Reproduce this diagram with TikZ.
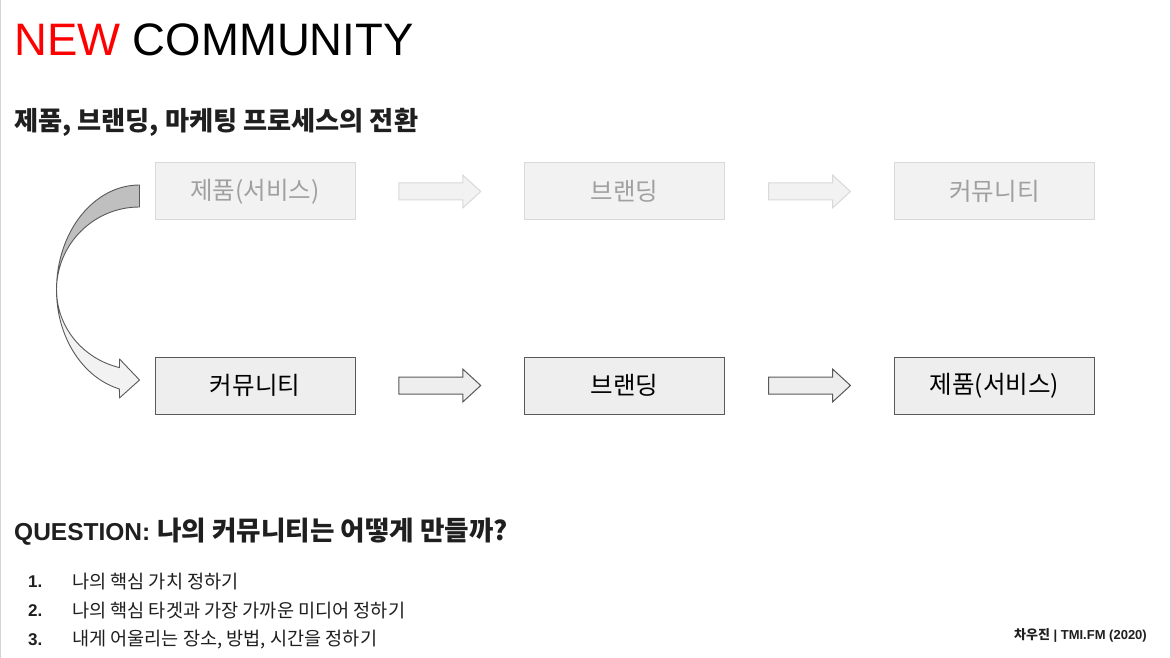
\documentclass[tikz,border=0pt]{standalone}
\usepackage{fontspec}
\setmainfont{Liberation Sans}
\newfontfamily\kr{Noto Sans CJK KR}
\usetikzlibrary{calc}
\definecolor{newred}{HTML}{FF0000}
\definecolor{inkdark}{HTML}{1F1F1F}
\definecolor{fadefill}{HTML}{F2F2F2}
\definecolor{fadeline}{HTML}{D9D9D9}
\definecolor{fadetext}{HTML}{A0A0A0}
\definecolor{boxfill}{HTML}{EEEEEE}
\definecolor{boxline}{HTML}{595959}
\definecolor{backband}{HTML}{BFBFBF}
\definecolor{frontband}{HTML}{F2F2F2}
\definecolor{edgegray}{HTML}{D4D4D4}
\tikzset{
  oldbox/.style={draw=fadeline, fill=fadefill, line width=1pt, minimum width=200pt, minimum height=57pt, inner sep=0pt, text=fadetext, font=\kr\fontsize{24.5}{28}\selectfont},
  newbox/.style={draw=boxline, fill=boxfill, line width=1pt, minimum width=200pt, minimum height=57pt, inner sep=0pt, text=black, font=\kr\fontsize{24.5}{28}\selectfont},
  oldarrow/.style={draw=fadeline, fill=fadefill, line width=1pt},
  newarrow/.style={draw=boxline, fill=boxfill, line width=1pt},
  txt/.style={inner sep=0pt, anchor=base west},
}
\newcommand{\blockarrowpath}{(-41,-8.5) -- (23,-8.5) -- (23,-16.5) -- (41,0) -- (23,16.5) -- (23,8.5) -- (-41,8.5) -- cycle}
\begin{document}
\begin{tikzpicture}[x=1pt,y=-1pt]
\useasboundingbox (0,0) rectangle (1171,658);
\fill[white] (0,0) rectangle (1171,658);
\draw[edgegray, line width=1pt] (0.5,0) -- (0.5,658);
\draw[edgegray, line width=1pt] (1170.5,0) -- (1170.5,658);

% title and subtitle
\node[txt] (title) at (14,56) {\fontsize{45.5}{52}\selectfont\textcolor{newred}{NEW} COMMUNITY};
\node[txt, text=inkdark] (subtitle) at (14,131) {\kr\bfseries\fontsize{26.2}{30}\selectfont 제품, 브랜딩, 마케팅 프로세스의 전환};

% top row (old process)
\node[oldbox] (t1) at (255,191.5) {제품(서비스)};
\node[oldbox] (t2) at (624.5,191.5) {브랜딩};
\node[oldbox] (t3) at (994.5,191.5) {커뮤니티};
% bottom row (new process)
\node[newbox] (b1) at (255,385.5) {커뮤니티};
\node[newbox] (b2) at (624.5,385.5) {브랜딩};
\node[newbox] (b3) at (994.5,385.5) {제품(서비스)};

% block arrows
\filldraw[oldarrow, shift={($(t1.east)!0.5!(t2.west)$)}] \blockarrowpath;
\filldraw[oldarrow, shift={($(t2.east)!0.5!(t3.west)$)}] \blockarrowpath;
\filldraw[newarrow, shift={($(b1.east)!0.5!(b2.west)$)}] \blockarrowpath;
\filldraw[newarrow, shift={($(b2.east)!0.5!(b3.west)$)}] \blockarrowpath;

% curved arrow from top row to bottom row
\coordinate (C) at ($(t1.west)!0.5!(b1.west)+(-15,1.5)$);
\filldraw[draw=boxline, fill=backband, line width=0.9pt]
  ($(C)+(0,-105)$) arc[start angle=-90, end angle=-180, x radius=83, y radius=105]
  arc[start angle=180, end angle=270, radius=83] -- cycle;
\filldraw[draw=boxline, fill=frontband, line width=0.9pt, line join=round]
  ($(C)+(-83,0)$) arc[start angle=180, end angle=104, x radius=83, y radius=102]
  -- ($(C)+(-20,108)$) -- ($(C)+(0,90)$) -- ($(C)+(-20,69)$)
  -- ($(C)+(-20,77.6)$) arc[start angle=104, end angle=180, x radius=83, y radius=80] -- cycle;

% question
\node[txt, text=inkdark] (question) at (14,540) {\bfseries\fontsize{24.5}{28}\selectfont QUESTION: {\kr\fontsize{26.6}{30}\selectfont 나의 커뮤니티는 어떻게 만들까?}};

% list
\node[txt, text=inkdark] (n1) at (28,587.5) {\bfseries\fontsize{17}{20}\selectfont 1.};
\node[txt, text=inkdark] (n2) at (28,616.5) {\bfseries\fontsize{17}{20}\selectfont 2.};
\node[txt, text=inkdark] (n3) at (28,645) {\bfseries\fontsize{17}{20}\selectfont 3.};
\node[txt, text=inkdark] (l1) at (72,588) {\kr\fontsize{18.6}{22}\selectfont 나의 핵심 가치 정하기};
\node[txt, text=inkdark] (l2) at (72,617) {\kr\fontsize{18.6}{22}\selectfont 나의 핵심 타겟과 가장 가까운 미디어 정하기};
\node[txt, text=inkdark] (l3) at (72,645.5) {\kr\fontsize{18.6}{22}\selectfont 내게 어울리는 장소, 방법, 시간을 정하기};

% footer
\node[inner sep=0pt, anchor=base east, text=inkdark] (footer) at (1147,639) {\bfseries\fontsize{13}{15}\selectfont{\kr 차우진} | TMI.FM (2020)};
\end{tikzpicture}
\end{document}
